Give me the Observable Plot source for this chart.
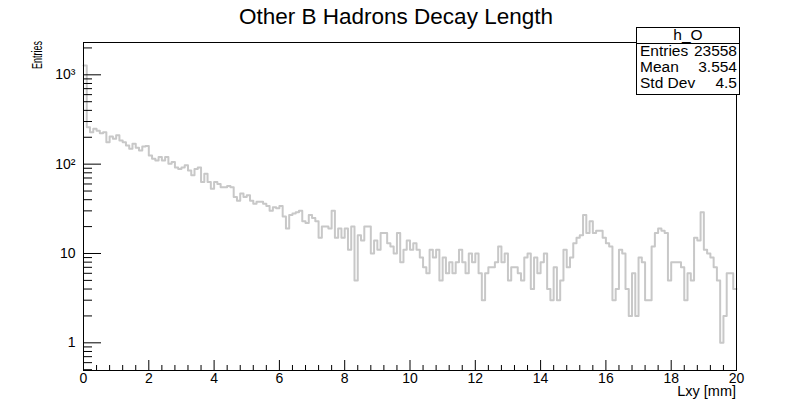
<!DOCTYPE html>
<html><head><meta charset="utf-8">
<script src="https://cdn.jsdelivr.net/npm/d3@7"></script>
<script src="https://cdn.jsdelivr.net/npm/@observablehq/plot@0.6"></script>
<style>body{margin:0;background:#fff}</style>
</head><body><div id="chart"></div>
<script>
// Histogram h_O : 200 bins of 0.1 mm from 0 to 20 mm
const binLow = 0;
const binWidth = 0.1;
const xMax = 20;
const counts = [
  1270, 259, 228, 249, 237, 222, 228, 176, 204, 192, 210, 184, 176, 162, 149, 169, 153, 142, 158, 160,
  125, 115, 110, 120, 110, 120, 101, 106, 92, 88, 92, 97, 85, 75, 88, 92, 63, 78, 63, 53,
  63, 60, 55, 55, 57, 55, 43, 39, 47, 43, 45, 39, 36, 38, 38, 36, 34, 30, 33, 32,
  34, 26, 19, 27, 28, 29, 30, 23, 22, 27, 25, 23, 15, 20, 20, 19, 30, 15, 19, 15,
  19, 11, 20, 5, 16, 14, 20, 20, 10, 14, 11, 17, 17, 13, 12, 10, 17, 8, 11, 14,
  11, 13, 11, 9, 7, 6, 11, 9, 11, 5, 9, 6, 8, 6, 8, 11, 8, 6, 10, 8,
  10, 6, 3, 6, 7, 7, 8, 12, 8, 10, 5, 7, 7, 6, 5, 9, 10, 4, 9, 6,
  8, 10, 4, 3, 7, 3, 5, 11, 7, 9, 13, 15, 16, 27, 17, 23, 17, 18, 18, 15,
  13, 12, 3, 4, 11, 10, 4, 2, 6, 2, 9, 8, 3, 3, 12, 17, 19, 18, 17, 5,
  8, 8, 8, 7, 3, 6, 5, 15, 14, 29, 11, 10, 9, 7, 5, 1, 2, 6, 6, 4
];
const xMajorTicks = [0, 2, 4, 6, 8, 10, 12, 14, 16, 18, 20];
const xMinorTicks = [0.4,0.8,1.2,1.6, 2.4,2.8,3.2,3.6, 4.4,4.8,5.2,5.6, 6.4,6.8,7.2,7.6, 8.4,8.8,9.2,9.6,
  10.4,10.8,11.2,11.6, 12.4,12.8,13.2,13.6, 14.4,14.8,15.2,15.6, 16.4,16.8,17.2,17.6, 18.4,18.8,19.2,19.6];
const yMajorTicks = [1, 10, 100, 1000];
const yMinorTicks = [0.5,0.6,0.7,0.8,0.9, 2,3,4,5,6,7,8,9, 20,30,40,50,60,70,80,90,
  200,300,400,500,600,700,800,900, 2000];
const yLabelMap = {1: "1", 10: "10", 100: "10²", 1000: "10³"};
const title = "Other B Hadrons Decay Length";
const xTitle = "Lxy [mm]";
const yTitle = "Entries";
const statsName = "h_O";
const statsRows = [["Entries", "23558"], ["Mean", "3.554"], ["Std Dev", "4.5"]];

const pts = counts.map((v, i) => ({x: binLow + i * binWidth, y: v}));
pts.push({x: xMax, y: counts[counts.length - 1]});

const font = "'Liberation Sans', Arial, Helvetica, sans-serif";
const plot = Plot.plot({
  width: 795, height: 405,
  marginLeft: 83, marginRight: 59, marginTop: 42, marginBottom: 35,
  x: {domain: [0, 20]},
  y: {type: "log", domain: [0.49, 2300]},
  style: {fontFamily: font, fontSize: "14px", color: "black", background: "white", overflow: "visible"},
  marks: [
    Plot.line(pts, {x: "x", y: "y", curve: "step-after", stroke: "#c8c8c8", strokeWidth: 2}),
    Plot.axisX(xMinorTicks, {anchor: "bottom", tickSize: -5, label: null, tickFormat: () => ""}),
    Plot.axisX(xMajorTicks, {anchor: "bottom", tickSize: -10, tickPadding: 13, label: null, tickFormat: d => String(d)}),
    Plot.axisY(yMinorTicks, {anchor: "left", tickSize: -9, label: null, tickFormat: () => ""}),
    Plot.axisY(yMajorTicks, {anchor: "left", tickSize: -18, tickPadding: 26, label: null, tickFormat: d => yLabelMap[d]}),
    Plot.frame({stroke: "black"})
  ]
});
document.getElementById("chart").appendChild(plot);

const svg = d3.select(plot);
svg.append("text").attr("x", 396).attr("y", 24).attr("text-anchor", "middle")
  .attr("font-family", font).attr("font-size", 22.5).attr("fill", "black").text(title);
svg.append("text").attr("x", 736).attr("y", 396).attr("text-anchor", "end")
  .attr("font-family", font).attr("font-size", 14.5).attr("fill", "black").text(xTitle);
svg.append("text").attr("transform", "translate(42,41) rotate(-90)").attr("text-anchor", "end")
  .attr("font-family", font).attr("font-size", 14).attr("textLength", 28).attr("lengthAdjust", "spacingAndGlyphs")
  .attr("fill", "black").text(yTitle);

const box = svg.append("g");
box.append("rect").attr("x", 636.5).attr("y", 27.5).attr("width", 103).attr("height", 67)
  .attr("fill", "white").attr("stroke", "black");
box.append("line").attr("x1", 636.5).attr("x2", 739.5).attr("y1", 43.5).attr("y2", 43.5).attr("stroke", "black");
box.append("text").attr("x", 688).attr("y", 40).attr("text-anchor", "middle")
  .attr("font-family", font).attr("font-size", 15.5).text(statsName);
statsRows.forEach(([k, v], i) => {
  box.append("text").attr("x", 640).attr("y", 56 + i * 16).attr("text-anchor", "start")
    .attr("font-family", font).attr("font-size", 15.5).text(k);
  box.append("text").attr("x", 737).attr("y", 56 + i * 16).attr("text-anchor", "end")
    .attr("font-family", font).attr("font-size", 15.5).text(v);
});
</script>
</body></html>
